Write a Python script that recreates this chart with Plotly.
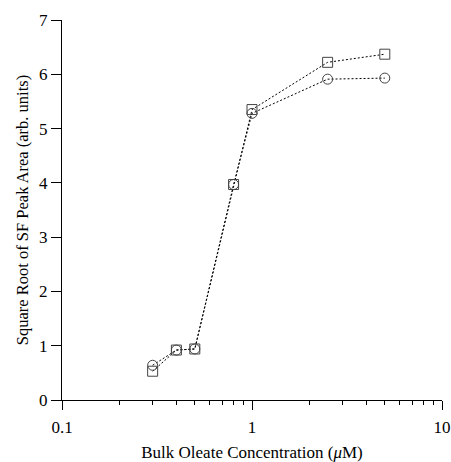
import plotly.graph_objects as go

conc = [0.3, 0.4, 0.5, 0.8, 1.0, 2.5, 5.0]
square_vals = [0.53, 0.92, 0.94, 3.97, 5.35, 6.22, 6.37]
circle_vals = [0.64, 0.92, 0.94, 3.97, 5.28, 5.91, 5.93]

x_tickvals = [0.1, 1, 10]
x_ticktext = ["0.1", "1", "10"]
y_tickvals = [0, 1, 2, 3, 4, 5, 6, 7]

font = "Liberation Serif, Times New Roman, serif"

fig = go.Figure()
fig.add_trace(go.Scatter(
    x=conc, y=square_vals, mode="lines+markers",
    line=dict(color="black", width=1, dash="2px,2px"),
    marker=dict(symbol="square-open", size=10, color="#444", line=dict(width=1)),
    showlegend=False, cliponaxis=False))
fig.add_trace(go.Scatter(
    x=conc, y=circle_vals, mode="lines+markers",
    line=dict(color="black", width=1, dash="2px,2px"),
    marker=dict(symbol="circle-open", size=10, color="#444", line=dict(width=1)),
    showlegend=False, cliponaxis=False))

fig.update_layout(
    width=451, height=462,
    margin=dict(l=62, r=9, t=20, b=62),
    paper_bgcolor="white", plot_bgcolor="white",
    font=dict(family=font, size=17, color="black"),
    xaxis=dict(
        type="log", range=[-1, 1], automargin=False,
        tickvals=x_tickvals, ticktext=x_ticktext,
        ticks="outside", ticklen=9, tickwidth=1, tickcolor="black",
        ticklabelstandoff=3,
        showline=True, linecolor="black", linewidth=1,
        showgrid=False, zeroline=False,
        minor=dict(ticks="outside", ticklen=4, tickwidth=1, tickcolor="black",
                   tickvals=[0.2, 0.3, 0.4, 0.5, 0.6, 0.7, 0.8, 0.9,
                             2, 3, 4, 5, 6, 7, 8, 9], showgrid=False),
        title=dict(text="Bulk Oleate Concentration (<i>μ</i>M)", standoff=12,
                   font=dict(size=17)),
        tickfont=dict(size=17),
    ),
    yaxis=dict(
        range=[0, 7], automargin=False,
        tickvals=y_tickvals,
        ticks="outside", ticklen=10, tickwidth=1, tickcolor="black",
        showline=True, linecolor="black", linewidth=1,
        showgrid=False, zeroline=False,
        title=dict(text="Square Root of SF Peak Area (arb. units)", standoff=6,
                   font=dict(size=16.5)),
        tickfont=dict(size=17),
    ),
)

fig.write_html("out.html", config={"displayModeBar": False},
               post_script="document.body.style.margin='0';")
